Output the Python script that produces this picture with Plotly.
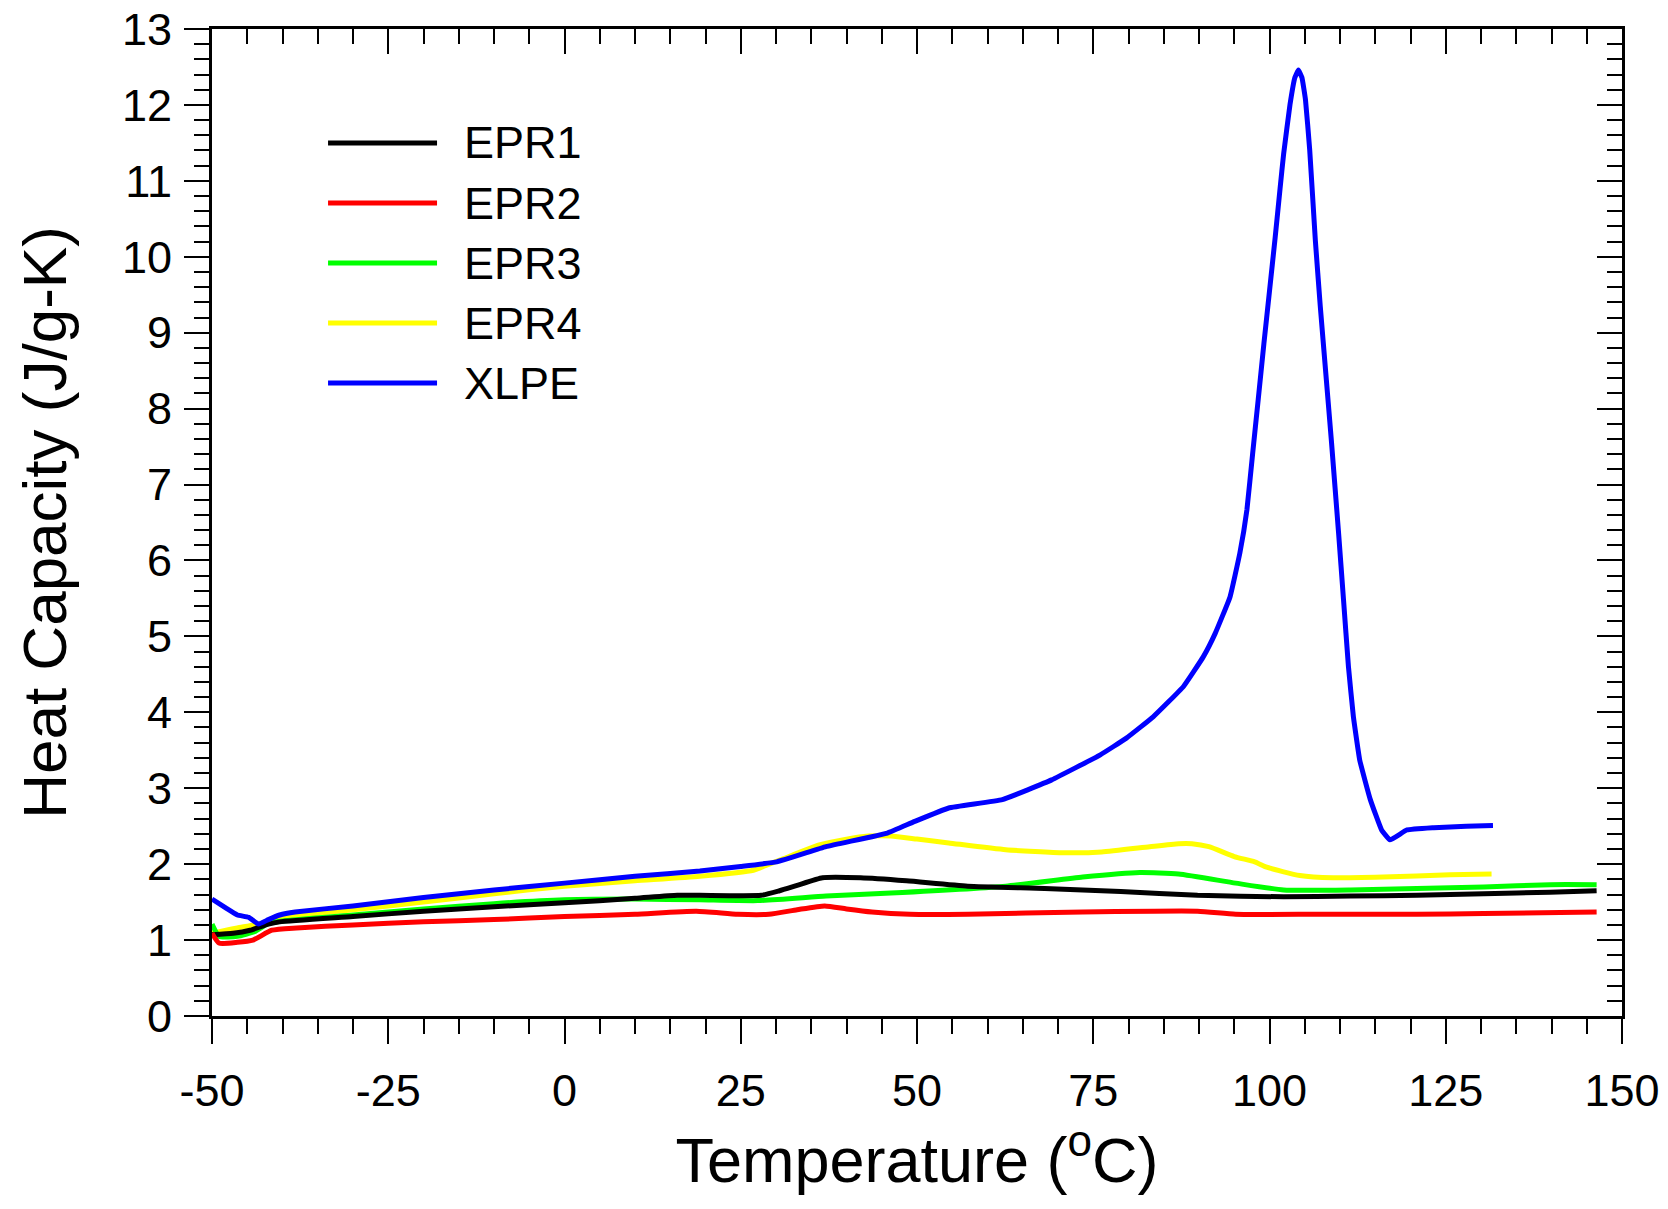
import plotly.graph_objects as go

# ---------------- data ----------------
epr1_t = [-50, -47, -44.6, -42, -40.4, -30, -20, -10, 0, 10, 16, 19.2, 27.9, 30.5, 33, 36.6, 42, 48.5,
          57.2, 68.1, 78.9, 89.8, 102, 111.5, 120.9, 130.4, 139.8, 146.4]
epr1_cp = [1.07, 1.09, 1.13, 1.21, 1.24, 1.31, 1.38, 1.44, 1.49, 1.55, 1.59, 1.59, 1.59, 1.65, 1.72, 1.82, 1.82, 1.78,
           1.71, 1.68, 1.64, 1.59, 1.57, 1.58, 1.59, 1.61, 1.63, 1.65]

epr2_t = [-50, -49, -46.4, -44.2, -41.5, -38, -30, -20, -10, 0, 10, 18.7, 24.6, 29, 33, 36.9, 40, 43.6, 49,
          57.2, 73.5, 89.8, 95.2, 106.8, 120.9, 130.4, 146.4]
epr2_cp = [1.09, 0.96, 0.97, 1.00, 1.13, 1.16, 1.20, 1.24, 1.27, 1.31, 1.34, 1.38, 1.34, 1.34, 1.40, 1.45, 1.41, 1.37, 1.34,
           1.34, 1.37, 1.38, 1.34, 1.34, 1.34, 1.35, 1.37]

epr3_t = [-50, -49, -46.4, -44, -42, -40, -30, -20, -10, 0, 10, 19.2, 27.4, 37.1, 46.3, 62.6, 73.5, 81.6,
          87.1, 95.2, 102, 111.5, 120.9, 130.4, 139.8, 146.4]
epr3_cp = [1.21, 1.05, 1.05, 1.11, 1.22, 1.25, 1.33, 1.41, 1.48, 1.53, 1.54, 1.53, 1.52, 1.58, 1.62, 1.71, 1.83, 1.89,
           1.87, 1.75, 1.66, 1.66, 1.68, 1.70, 1.73, 1.73]

epr4_t = [-50, -48, -46.4, -43, -40.4, -30, -20, -10, 0, 10, 19.2, 26.8, 28.5, 31, 36, 40, 43.1, 46.3, 50,
          54.5, 62.6, 70.8, 76.2, 83, 87.1, 89, 91.4, 95, 97.9, 99.6, 104.3, 109, 116.1, 125.6, 131.5]
epr4_cp = [1.09, 1.13, 1.16, 1.22, 1.29, 1.40, 1.50, 1.61, 1.71, 1.78, 1.84, 1.92, 1.98, 2.07, 2.25, 2.33, 2.37, 2.37, 2.33,
           2.28, 2.19, 2.15, 2.16, 2.23, 2.27, 2.27, 2.23, 2.10, 2.03, 1.96, 1.85, 1.82, 1.83, 1.86, 1.87]

xlpe_t = [-50, -48, -46.4, -44.8, -43.4, -42, -40.4, -38.2, -30, -20, -10, 0, 10, 19.2, 25, 30.1, 37.1,
          45.8, 49.6, 54.5, 62.1, 69.1, 76, 79.7, 83.5, 87.8, 90.6, 92.3, 94.4, 95.8, 96.8, 97.6, 98.4,
          99.2, 100.0, 100.8, 101.5, 102, 102.9, 103.6, 104.1, 104.6, 105.1, 105.7, 106.5, 107.2, 108, 108.8,
          109.8, 110.5, 111.2, 111.9, 112.8, 114.3, 115.9, 117.1, 119.5, 123.3, 127.9, 131.7]
xlpe_cp = [1.54, 1.42, 1.33, 1.30, 1.21, 1.27, 1.33, 1.37, 1.45, 1.56, 1.66, 1.75, 1.84, 1.91, 1.97, 2.03, 2.23,
           2.41, 2.56, 2.74, 2.85, 3.11, 3.44, 3.66, 3.94, 4.34, 4.73, 5.04, 5.52, 6.10, 6.67, 7.40, 8.12,
           8.85, 9.55, 10.25, 10.90, 11.35, 12.00, 12.36, 12.46, 12.36, 12.07, 11.41, 10.22, 9.35, 8.45, 7.55,
           6.36, 5.48, 4.60, 3.94, 3.37, 2.85, 2.45, 2.32, 2.45, 2.48, 2.50, 2.51]

series_names = ["EPR1", "EPR2", "EPR3", "EPR4", "XLPE"]
series_t = [epr1_t, epr2_t, epr3_t, epr4_t, xlpe_t]
series_cp = [epr1_cp, epr2_cp, epr3_cp, epr4_cp, xlpe_cp]
series_colors = ["#000000", "#ff0000", "#00ff00", "#ffff00", "#0000ff"]
series_smooth = [0.5, 0.5, 0.5, 0.5, 0.3]
draw_order = [3, 2, 0, 1, 4]  # yellow under, blue on top

x_ticks = [-50, -25, 0, 25, 50, 75, 100, 125, 150]
y_ticks = list(range(0, 14))

FONT = "Liberation Sans, Arial, Helvetica, sans-serif"

fig = go.Figure()
for i in draw_order:
    fig.add_trace(go.Scatter(
        x=series_t[i], y=series_cp[i], mode="lines", name=series_names[i],
        line=dict(color=series_colors[i], width=5, shape="spline", smoothing=series_smooth[i]),
        showlegend=False))

axis_common = dict(showgrid=False, zeroline=False, showline=True, linecolor="black", linewidth=3,
                   tickcolor="black", tickwidth=2, automargin=False)

fig.update_layout(
    width=1668, height=1209,
    margin=dict(l=212, r=46, t=29, b=193),
    plot_bgcolor="white", paper_bgcolor="white",
    font=dict(family=FONT, color="black"),
    xaxis=dict(range=[-50, 150], tickvals=x_ticks, ticktext=[str(v) for v in x_ticks],
               ticks="outside", ticklen=25, tickfont=dict(size=45), ticklabelstandoff=8,
               minor=dict(dtick=5, tick0=-50, ticks="outside", ticklen=15, tickwidth=2, tickcolor="black"),
               title=dict(text="Temperature (<sup>o</sup>C)", font=dict(size=63), standoff=11),
               **axis_common),
    yaxis=dict(range=[0, 13], tickvals=y_ticks, ticktext=[str(v) for v in y_ticks],
               ticks="outside", ticklen=25, tickfont=dict(size=45), ticklabelstandoff=3,
               minor=dict(dtick=0.2, tick0=0, ticks="outside", ticklen=15, tickwidth=2, tickcolor="black"),
               title=dict(text="Heat Capacity (J/g-K)", font=dict(size=62), standoff=36),
               **axis_common),
    xaxis2=dict(range=[-50, 150], overlaying="x", side="top", anchor="y", tickvals=x_ticks,
                showticklabels=False, ticks="inside", ticklen=25,
                minor=dict(dtick=5, tick0=-50, ticks="inside", ticklen=15, tickwidth=2, tickcolor="black"),
                **axis_common),
    yaxis2=dict(range=[0, 13], overlaying="y", side="right", anchor="x", tickvals=y_ticks,
                showticklabels=False, ticks="inside", ticklen=25,
                minor=dict(dtick=0.2, tick0=0, ticks="inside", ticklen=15, tickwidth=2, tickcolor="black"),
                **axis_common),
)
fig.add_trace(go.Scatter(x=[], y=[], xaxis="x2", yaxis="y2", showlegend=False, hoverinfo="skip"))

# manual legend (long line samples like the reference)
leg_x0, leg_x1, leg_tx = 0.0823, 0.1596, 0.1770
leg_y = [0.8845, 0.8237, 0.7629, 0.7021, 0.6413]
for i, name in enumerate(series_names):
    fig.add_shape(type="line", xref="paper", yref="paper", x0=leg_x0, x1=leg_x1, y0=leg_y[i], y1=leg_y[i],
                  line=dict(color=series_colors[i], width=5))
    fig.add_annotation(xref="paper", yref="paper", x=leg_tx, y=leg_y[i], text=name, showarrow=False,
                       xanchor="left", yanchor="middle", font=dict(size=45, color="black", family=FONT))

fig.write_html("out.html")
